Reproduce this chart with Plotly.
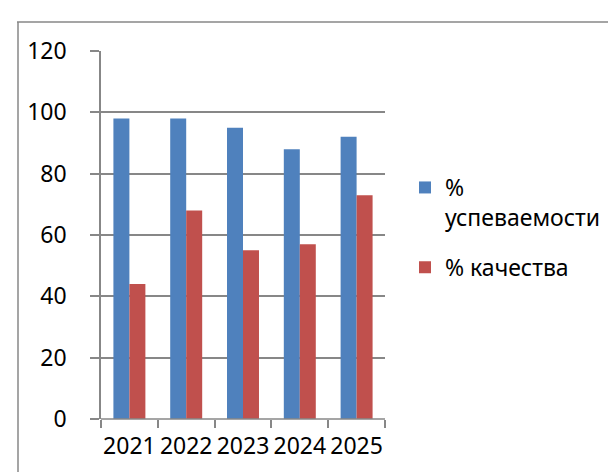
import plotly.graph_objects as go

years = ["2021", "2022", "2023", "2024", "2025"]
uspev = [98, 98, 95, 88, 92]
kach = [44, 68, 55, 57, 73]
series_names = ["%<br>успеваемости", "% качества"]
colors = ["#4F81BD", "#C0504D"]
y_ticks = [0, 20, 40, 60, 80, 100, 120]

FONT = "Noto Sans, Open Sans, sans-serif"
GRID = "#878787"

fig = go.Figure()
fig.add_trace(go.Bar(x=years, y=uspev, name=series_names[0], legendgroup="a",
                     marker=dict(color=colors[0], line=dict(width=0))))
fig.add_trace(go.Bar(x=years, y=kach, name=series_names[1], legendgroup="b",
                     marker=dict(color=colors[1], line=dict(width=0))))

L, R, T, B = 93, 239, 43, 61
W, H = 616, 472
pw, ph = W - L - R, H - T - B

def px_x(px):
    return (px - L) / pw

def px_y(py):
    return (H - B - py) / ph

fig.update_layout(
    width=W, height=H,
    margin=dict(l=L, r=R, t=T, b=B, pad=0),
    paper_bgcolor="white", plot_bgcolor="white",
    barmode="group", bargap=0.437, bargroupgap=0,
    font=dict(family=FONT, size=23, color="black"),
    showlegend=True,
    legend=dict(x=px_x(397), y=px_y(158), xanchor="left", yanchor="top",
                font=dict(family=FONT, size=23, color="black"),
                valign="top", traceorder="grouped", tracegroupgap=17,
                itemwidth=30, bgcolor="rgba(0,0,0,0)"),
    xaxis=dict(type="category", range=[-0.5, 4.5], showgrid=False,
               showline=False, ticks="outside", tickson="boundaries",
               ticklen=8, tickwidth=1.5, tickcolor=GRID, tickangle=0,
               ticklabelstandoff=11,
               tickfont=dict(family=FONT, size=23), zeroline=False),
    yaxis=dict(range=[0, 120], tickvals=y_ticks, showgrid=True,
               gridcolor=GRID, gridwidth=1.5, showline=True,
               linecolor=GRID, linewidth=1.5, ticks="outside", ticklen=9,
               tickwidth=1.5, tickcolor=GRID, ticklabelstandoff=19,
               tickfont=dict(family=FONT, size=23), zeroline=False),
    shapes=[
        dict(type="line", xref="paper", yref="paper",
             x0=px_x(9), x1=px_x(616), y0=px_y(14), y1=px_y(14),
             line=dict(color=GRID, width=1.5)),
        dict(type="line", xref="paper", yref="paper",
             x0=px_x(10), x1=px_x(10), y0=px_y(14), y1=px_y(472),
             line=dict(color=GRID, width=1.5)),
        dict(type="line", xref="paper", yref="paper",
             x0=0, x1=1, y0=0, y1=0,
             line=dict(color=GRID, width=1.5)),
    ],
)

fig.write_html("out.html")
